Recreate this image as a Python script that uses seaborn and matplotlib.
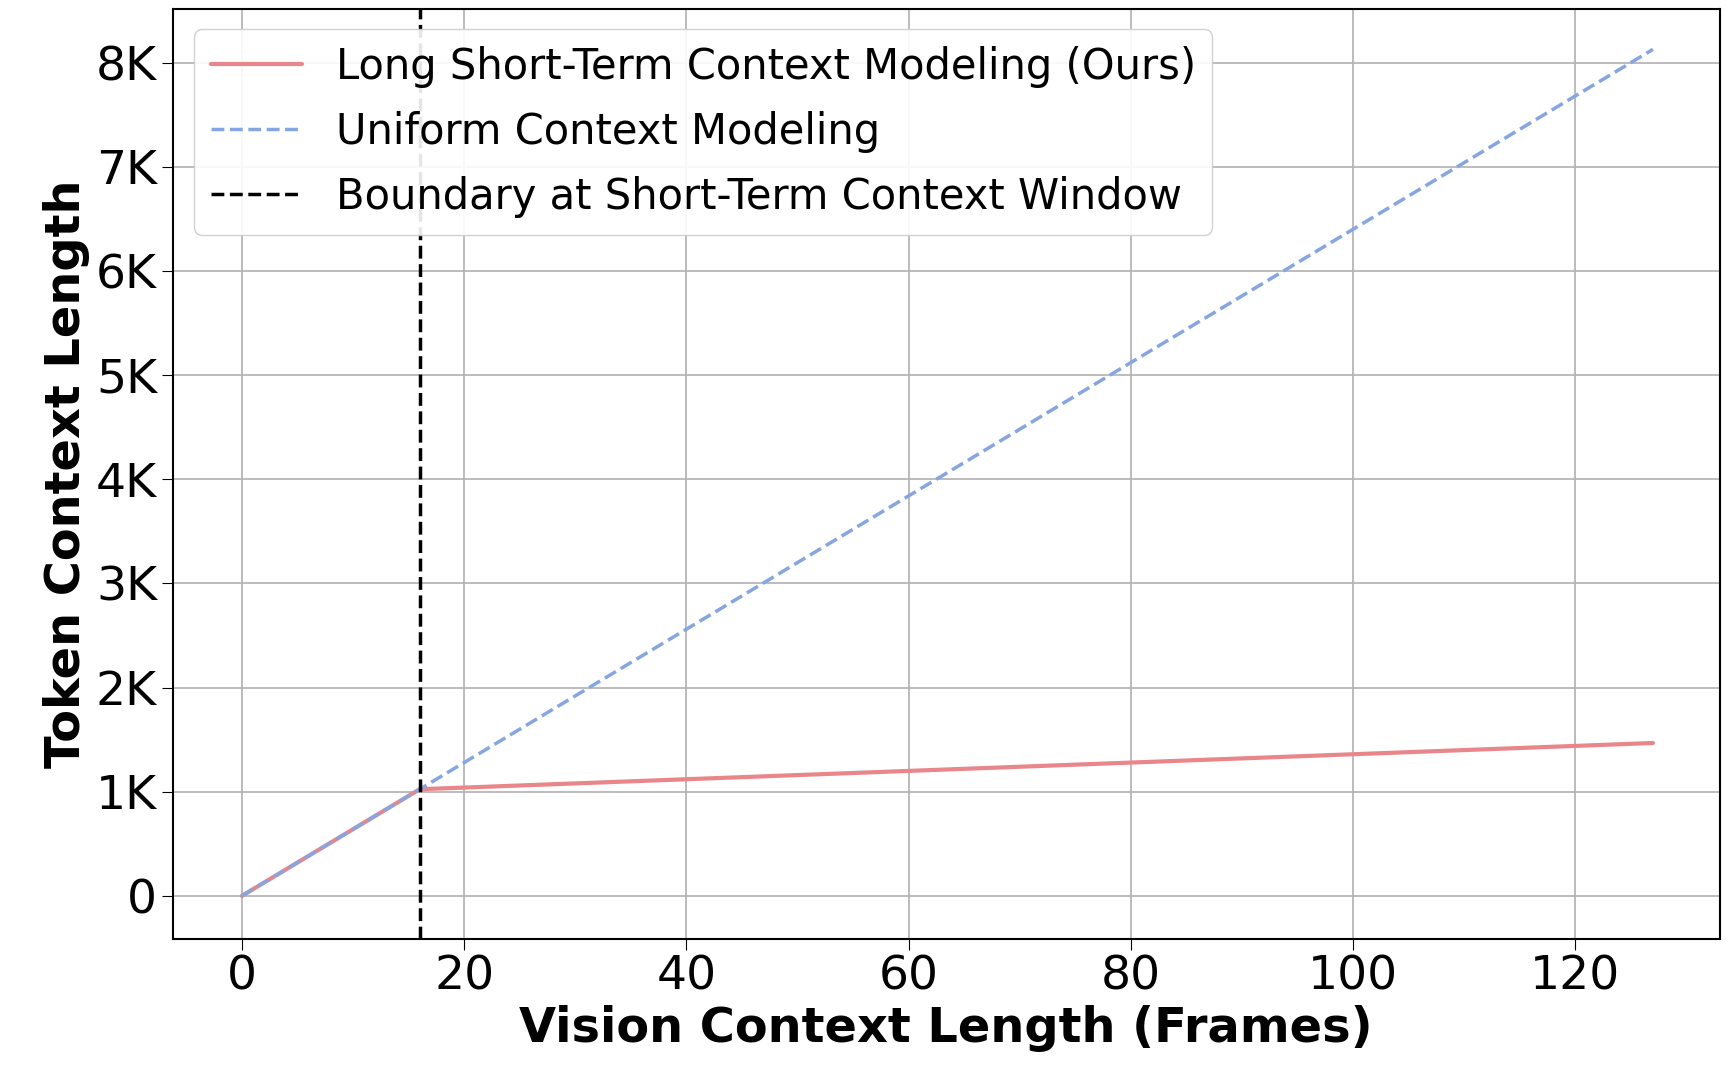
import matplotlib
matplotlib.use("Agg")
import matplotlib.pyplot as plt
import seaborn as sns
from matplotlib.ticker import FuncFormatter

# breakpoints (frames -> tokens)
ours_x = [0, 16, 127]
ours_y = [0, 1024, 1468]
uniform_x = [0, 16, 127]
uniform_y = [0, 1024, 8128]
boundary = 16

sns.set_style("ticks")
plt.rcParams['font.family'] = ['DejaVu Sans']
plt.rcParams['text.color'] = 'black'
plt.rcParams['axes.labelcolor'] = 'black'
plt.rcParams['xtick.color'] = 'black'
plt.rcParams['ytick.color'] = 'black'

fig, ax = plt.subplots(figsize=(17.3, 10.69), dpi=100)
sns.lineplot(x=ours_x, y=ours_y, ax=ax, color='#E8868A', linewidth=3,
             label='Long Short-Term Context Modeling (Ours)')
sns.lineplot(x=uniform_x, y=uniform_y, ax=ax, color='#86A6E3', linewidth=2.5,
             linestyle='--', label='Uniform Context Modeling')
ax.axvline(boundary, color='black', linestyle='--', linewidth=2.5,
           label='Boundary at Short-Term Context Window')

ax.set_xlim(-6.2, 133)
ax.set_ylim(-410, 8520)
ax.set_yticks(range(0, 8001, 1000))
ax.yaxis.set_major_formatter(FuncFormatter(lambda v, p: '0' if v == 0 else f'{int(v/1000)}K'))
ax.grid(True, color='#b0b0b0', linewidth=1.2)
ax.tick_params(labelsize=34, length=8)
ax.set_xlabel('Vision Context Length (Frames)', fontsize=34.5, fontweight='bold')
ax.set_ylabel('Token Context Length', fontsize=34.5, fontweight='bold')
for s in ax.spines.values():
    s.set_linewidth(1.5)
    s.set_color('black')
ax.legend(loc='upper left', fontsize=30, handlelength=2.2, labelspacing=0.55,
          framealpha=0.9)

fig.subplots_adjust(left=0.1, right=0.994, top=0.992, bottom=0.122)
fig.savefig('out.png')
